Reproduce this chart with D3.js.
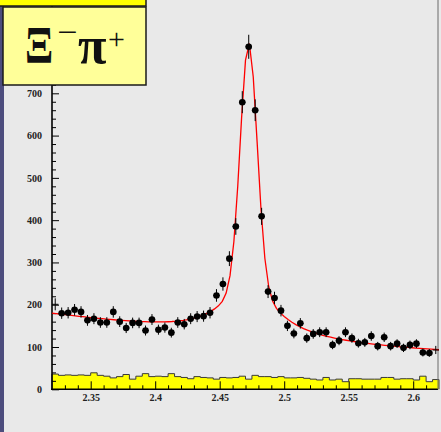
<!DOCTYPE html>
<html>
<head>
<meta charset="utf-8">
<script src="https://cdn.jsdelivr.net/npm/d3@7"></script>
<style>
  html, body { margin: 0; padding: 0; background: #e9e9e9; overflow: hidden; }
  svg { display: block; }
</style>
</head>
<body>
<svg id="chart" width="441" height="432"></svg>
<script>
// Invariant mass bins (GeV), bin centres, width 5 MeV
const binCenters = [
  2.3225, 2.3275, 2.3325, 2.3375, 2.3425, 2.3475, 2.3525, 2.3575, 2.3625, 2.3675,
  2.3725, 2.3775, 2.3825, 2.3875, 2.3925, 2.3975, 2.4025, 2.4075, 2.4125, 2.4175,
  2.4225, 2.4275, 2.4325, 2.4375, 2.4425, 2.4475, 2.4525, 2.4575, 2.4625, 2.4675,
  2.4725, 2.4775, 2.4825, 2.4875, 2.4925, 2.4975, 2.5025, 2.5075, 2.5125, 2.5175,
  2.5225, 2.5275, 2.5325, 2.5375, 2.5425, 2.5475, 2.5525, 2.5575, 2.5625, 2.5675,
  2.5725, 2.5775, 2.5825, 2.5875, 2.5925, 2.5975, 2.6025, 2.6075, 2.6125, 2.6175
];
const binWidth = 0.005;

// Xi- pi+ candidates per bin
const signalCounts = [
  201, 180, 181, 188, 183, 163, 167, 158, 158, 183,
  160, 145, 157, 157, 139, 165, 141, 146, 134, 158,
  154, 167, 172, 173, 181, 222, 249, 309, 385, 679,
  810, 660, 409, 231, 216, 186, 150, 132, 156, 121,
  131, 135, 135, 105, 115, 135, 121, 109, 111, 126,
  102, 123, 102, 108, 98, 105, 108, 87, 86, 93
];

// Side-band (wrong-sign) histogram, yellow
const sidebandCounts = [
  36, 33, 34, 33, 34, 33, 39, 33, 31, 27,
  30, 35, 24, 31, 37, 30, 31, 30, 37, 30,
  28, 25, 30, 28, 27, 24, 28, 27, 28, 31,
  24, 33, 30, 30, 28, 30, 27, 27, 28, 26,
  24, 22, 28, 22, 24, 18, 25, 25, 24, 24,
  24, 28, 28, 24, 25, 25, 22, 31, 18, 23
];

const xTickValues = [2.35, 2.4, 2.45, 2.5, 2.55, 2.6];
const yTickValues = [0, 100, 200, 300, 400, 500, 600, 700];

// Fit: quadratic background + Breit-Wigner-like tail + Gaussian core
const bkgPars = { x0: 2.47, c: 123.4, d: -290, e: 450 };
const bwPars = { amp: 126, mean: 2.4725, gamma: 0.025 };
const gausPars = { amp: 571, mean: 2.4725, sigma: 0.0065 };

function fitFunc(m) {
  const t = m - bkgPars.x0;
  const bkg = bkgPars.c + bkgPars.d * t + bkgPars.e * t * t;
  const db = m - bwPars.mean;
  const g2 = bwPars.gamma * bwPars.gamma;
  const bw = bwPars.amp * g2 / (db * db + g2);
  const dg = m - gausPars.mean;
  const gs = gausPars.amp * Math.exp(-dg * dg / (2 * gausPars.sigma * gausPars.sigma));
  return bkg + bw + gs;
}

const W = 441, H = 432;
const svg = d3.select("#chart");

const x = d3.scaleLinear().domain([2.32, 2.62]).range([52, 439]);
const y = d3.scaleLinear().domain([0, 700]).range([389.3, 93.3]);

// page background and left stripe
svg.append("rect").attr("x", 0).attr("y", 0).attr("width", W).attr("height", H).attr("fill", "#e9e9e9");
svg.append("rect").attr("x", 0).attr("y", 0).attr("width", 4).attr("height", H).attr("fill", "#4d4d7d");

// side-band histogram
const edges = binCenters.map((c, i) => [c - binWidth / 2, sidebandCounts[i]]);
edges.push([binCenters[binCenters.length - 1] + binWidth / 2, sidebandCounts[sidebandCounts.length - 1]]);
svg.append("path")
  .datum(edges)
  .attr("fill", "#ffff00")
  .attr("d", d3.area().curve(d3.curveStepAfter).x(d => x(d[0])).y0(y(0)).y1(d => y(d[1])));
const outline = [[edges[0][0], 0]].concat(edges).concat([[edges[edges.length - 1][0], 0]]);
svg.append("path")
  .datum(outline)
  .attr("fill", "none")
  .attr("stroke", "#3a3a3a")
  .attr("stroke-width", 1)
  .attr("d", d3.line().curve(d3.curveStepAfter).x(d => x(d[0])).y(d => y(d[1])));

// axes
const tickFont = g => g.selectAll("text")
  .attr("font-family", "'Liberation Serif', 'DejaVu Serif', serif")
  .attr("font-weight", "bold")
  .attr("font-size", 10)
  .attr("fill", "#222");

const yMinor = d3.range(20, 820, 20).filter(v => v % 100 !== 0);
svg.append("g").attr("transform", "translate(52,0)")
  .call(d3.axisLeft(y).tickValues(yMinor).tickSize(-4).tickFormat(""))
  .call(g => g.select(".domain").remove())
  .call(g => g.selectAll("line").attr("stroke", "#000"));
svg.append("g").attr("transform", "translate(52,0)")
  .call(d3.axisLeft(y).tickValues(yTickValues).tickSize(-7).tickPadding(10).tickFormat(d3.format("d")))
  .call(g => g.select(".domain").remove())
  .call(g => g.selectAll("line").attr("stroke", "#000"))
  .call(tickFont);

const xMinor = d3.range(2.33, 2.615, 0.01).filter(v => !xTickValues.some(t => Math.abs(t - v) < 1e-6));
svg.append("g").attr("transform", "translate(0,389.3)")
  .call(d3.axisBottom(x).tickValues(xMinor).tickSize(-4).tickFormat(""))
  .call(g => g.select(".domain").remove())
  .call(g => g.selectAll("line").attr("stroke", "#000"));
svg.append("g").attr("transform", "translate(0,389.3)")
  .call(d3.axisBottom(x).tickValues(xTickValues).tickSize(-8).tickPadding(5).tickFormat(d3.format(".3~f")))
  .call(g => g.select(".domain").remove())
  .call(g => g.selectAll("line").attr("stroke", "#000"))
  .call(tickFont);

// axis lines and right frame
svg.append("line").attr("x1", 52).attr("x2", 52).attr("y1", 0).attr("y2", 390)
  .attr("stroke", "#000").attr("stroke-width", 1.6);
svg.append("line").attr("x1", 51.2).attr("x2", 438).attr("y1", 389.3).attr("y2", 389.3)
  .attr("stroke", "#000").attr("stroke-width", 1.6);
svg.append("line").attr("x1", 438).attr("x2", 438).attr("y1", 0).attr("y2", 389.3)
  .attr("stroke", "#6a6a6a").attr("stroke-width", 1);

// fit curve (100 segments over the full range)
const fitSamples = d3.range(0, 101).map(k => 2.32 + k * 0.003);
svg.append("path")
  .datum(fitSamples)
  .attr("fill", "none")
  .attr("stroke", "#ff0000")
  .attr("stroke-width", 1.3)
  .attr("d", d3.line().x(m => x(m)).y(m => y(fitFunc(m))));

// data points with statistical errors
const pts = svg.append("g");
binCenters.forEach((c, i) => {
  const n = signalCounts[i];
  const err = Math.sqrt(n);
  pts.append("line")
    .attr("x1", x(c)).attr("x2", x(c))
    .attr("y1", y(n - err)).attr("y2", y(n + err))
    .attr("stroke", "#000").attr("stroke-width", 1);
  pts.append("line")
    .attr("x1", x(c - binWidth / 2)).attr("x2", x(c + binWidth / 2))
    .attr("y1", y(n)).attr("y2", y(n))
    .attr("stroke", "#000").attr("stroke-width", 1);
  const edgeBin = (i === 0 || i === binCenters.length - 1);
  if (!edgeBin) {
    pts.append("circle").attr("cx", x(c)).attr("cy", y(n)).attr("r", 3.3).attr("fill", "#000");
  }
});

// label box
svg.append("rect").attr("x", -2).attr("y", -2).attr("width", 148).attr("height", 8)
  .attr("fill", "#ffff00").attr("stroke", "#1a1a1a").attr("stroke-width", 1.5);
svg.append("rect").attr("x", 3).attr("y", 7).attr("width", 143).attr("height", 78)
  .attr("fill", "#ffff99").attr("stroke", "#1a1a1a").attr("stroke-width", 1.5);

const serif = "'Liberation Serif', 'DejaVu Serif', serif";
const label = svg.append("g").attr("fill", "#111").attr("font-family", serif);
label.append("text").attr("transform", "translate(25,63) scale(0.8,1)")
  .attr("font-size", 52).attr("font-weight", "bold").text("Ξ");
label.append("text").attr("transform", "translate(57.5,42) scale(1.2,1)")
  .attr("font-size", 30).text("−");
label.append("text").attr("transform", "translate(78,63)")
  .attr("font-size", 52).attr("font-weight", "bold").text("π");
label.append("text").attr("transform", "translate(108,49)")
  .attr("font-size", 30).text("+");
</script>
</body>
</html>
